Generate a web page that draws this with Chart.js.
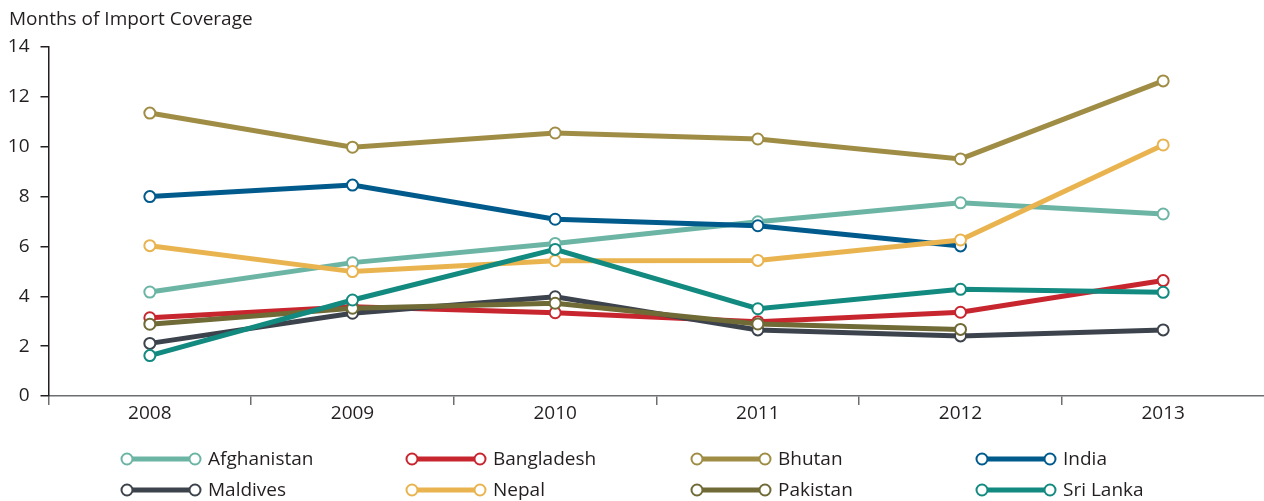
<!DOCTYPE html>
<html>
<head>
<meta charset="utf-8">
<script src="https://cdn.jsdelivr.net/npm/chart.js@4/dist/chart.umd.min.js"></script>
<style>
  html, body { margin: 0; padding: 0; background: #fff; overflow: hidden; width: 1264px; height: 501px; }
  #wrap { position: relative; width: 1264px; height: 501px; overflow: hidden; }
  canvas { position: absolute; left: 0; top: 0; }
</style>
</head>
<body>
<div id="wrap"><canvas id="c" width="1272" height="501"></canvas></div>
<script>
const titleText = 'Months of Import Coverage';
const years = ['2008', '2009', '2010', '2011', '2012', '2013'];
const yTicks = [0, 2, 4, 6, 8, 10, 12, 14];

const countries = ['Afghanistan', 'Bangladesh', 'Bhutan', 'India', 'Maldives', 'Nepal', 'Pakistan', 'Sri Lanka'];
const afghanistan = [4.17, 5.35, 6.12, 6.99, 7.75, 7.30];
const bangladesh  = [3.14, 3.58, 3.34, 2.98, 3.36, 4.63];
const bhutan      = [11.35, 9.98, 10.55, 10.31, 9.51, 12.64];
const india       = [8.00, 8.46, 7.09, 6.83, 6.02, null];
const maldives    = [2.11, 3.32, 3.98, 2.65, 2.41, 2.65];
const nepal       = [6.03, 4.99, 5.43, 5.44, 6.26, 10.07];
const pakistan    = [2.88, 3.52, 3.72, 2.89, 2.67, null];
const sriLanka    = [1.62, 3.85, 5.88, 3.50, 4.28, 4.16];

const seriesValues = [afghanistan, bangladesh, bhutan, india, maldives, nepal, pakistan, sriLanka];
const colors = ['#6cb5a5', '#c8262f', '#a08d45', '#005b8c', '#3d434c', '#e9b44f', '#706a36', '#138a80'];

const FONT = '"Open Sans", "Noto Sans", sans-serif';
const TEXT = '#231f20';

const datasets = countries.map((name, i) => ({
  label: name,
  data: seriesValues[i],
  borderColor: colors[i],
  backgroundColor: '#ffffff',
  borderWidth: 5,
  pointRadius: 5.5,
  pointBorderWidth: 2,
  pointBackgroundColor: '#ffffff',
  pointBorderColor: colors[i],
  tension: 0,
  spanGaps: false,
  order: countries.length - i
}));

const titlePlugin = {
  id: 'titleAndLegend',
  afterDraw(chart) {
    const ctx = chart.ctx;
    ctx.save();
    ctx.fillStyle = TEXT;
    ctx.font = '19px ' + FONT;
    ctx.textBaseline = 'middle';
    ctx.textAlign = 'left';
    ctx.fillText(titleText, 9, 20);

    // legend
    const colX = [127, 412, 697, 982];
    const rowY = [459, 490];
    chart.data.datasets.forEach((ds, i) => {
      const col = i % 4, row = Math.floor(i / 4);
      const x0 = colX[col], x1 = x0 + 68, y = rowY[row];
      ctx.strokeStyle = ds.borderColor;
      ctx.lineWidth = 5;
      ctx.beginPath();
      ctx.moveTo(x0, y);
      ctx.lineTo(x1, y);
      ctx.stroke();
      [x0, x1].forEach(cx => {
        ctx.beginPath();
        ctx.arc(cx, y, 5.5, 0, Math.PI * 2);
        ctx.fillStyle = '#ffffff';
        ctx.fill();
        ctx.lineWidth = 2;
        ctx.strokeStyle = ds.borderColor;
        ctx.stroke();
      });
      ctx.fillStyle = TEXT;
      ctx.font = '19px ' + FONT;
      ctx.fillText(ds.label, x0 + 81, y + 1);
    });
    ctx.restore();
  }
};

new Chart(document.getElementById('c'), {
  type: 'line',
  data: { labels: years, datasets },
  options: {
    responsive: false,
    animation: false,
    events: [],
    layout: { padding: { top: 47, right: 3, bottom: 65, left: 0 } },
    plugins: { legend: { display: false }, tooltip: { enabled: false } },
    scales: {
      x: {
        type: 'category',
        offset: true,
        border: { display: true, color: '#6d6e71', width: 1.5 },
        grid: { offset: true, drawOnChartArea: false, drawTicks: true, tickLength: 9, color: '#6d6e71', lineWidth: 1.5 },
        ticks: { color: TEXT, font: { family: FONT, size: 19 }, padding: -3, maxRotation: 0 },
        afterFit(scale) { scale.height = 40; }
      },
      y: {
        min: 0,
        max: 14,
        afterBuildTicks(scale) { scale.ticks = yTicks.map(v => ({ value: v })); },
        border: { display: true, color: '#231f20', width: 1.5 },
        grid: { drawOnChartArea: false, drawTicks: true, tickLength: 8, color: '#231f20', lineWidth: 1.5 },
        ticks: { color: TEXT, font: { family: FONT, size: 19 }, padding: 11 },
        afterFit(scale) { scale.width = 48.5; }
      }
    }
  },
  plugins: [titlePlugin]
});
</script>
</body>
</html>
